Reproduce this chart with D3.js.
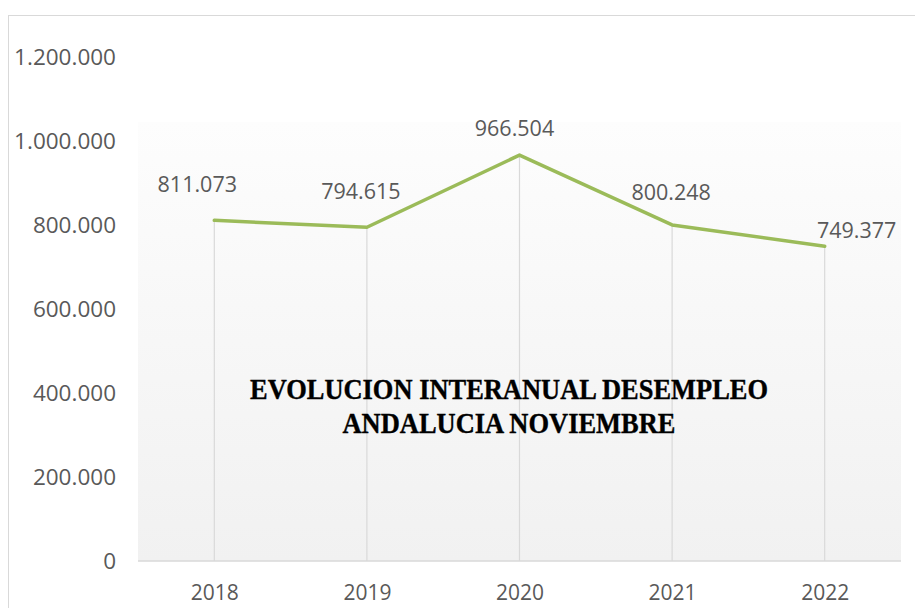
<!DOCTYPE html>
<html>
<head>
<meta charset="utf-8">
<script src="https://cdn.jsdelivr.net/npm/d3@7"></script>
<style>
  body { margin: 0; background: #fff; }
  svg { display: block; }
</style>
</head>
<body>
<div id="chart"></div>
<script>
// data
const years = ["2018", "2019", "2020", "2021", "2022"];
const parados = [811073, 794615, 966504, 800248, 749377];
const yTicks = [0, 200000, 400000, 600000, 800000, 1000000, 1200000];
const titleLines = ["EVOLUCION INTERANUAL DESEMPLEO", "ANDALUCIA NOVIEMBRE"];

const width = 915, height = 608;
const margin = {top: 57, right: 14, bottom: 47, left: 138};

const svg = d3.select("#chart").append("svg")
    .attr("width", width)
    .attr("height", height);

// chart border (runs off the right / bottom edge)
svg.append("rect")
    .attr("x", 8.5).attr("y", 15.5)
    .attr("width", 1000).attr("height", 700)
    .attr("fill", "#fff")
    .attr("stroke", "#d9d9d9");

const x = d3.scalePoint()
    .domain(years)
    .range([margin.left, width - margin.right])
    .padding(0.5);

const y = d3.scaleLinear()
    .domain([0, 1200000])
    .range([height - margin.bottom, margin.top]);

// plot area gradient
const defs = svg.append("defs");
const grad = defs.append("linearGradient")
    .attr("id", "bg").attr("x1", 0).attr("y1", 0).attr("x2", 0).attr("y2", 1);
grad.append("stop").attr("offset", "0%").attr("stop-color", "#fdfdfd");
grad.append("stop").attr("offset", "100%").attr("stop-color", "#f1f1f1");

const plotTop = 122;
svg.append("rect")
    .attr("x", margin.left)
    .attr("y", plotTop)
    .attr("width", width - margin.right - margin.left)
    .attr("height", y(0) - plotTop)
    .attr("fill", "url(#bg)");

// drop lines
svg.append("g")
    .selectAll("line")
    .data(parados)
    .join("line")
    .attr("x1", (d, i) => x(years[i]))
    .attr("x2", (d, i) => x(years[i]))
    .attr("y1", d => y(d))
    .attr("y2", y(0))
    .attr("stroke", "#d9d9d9")
    .attr("stroke-width", 1.2);

// x axis
const xAxis = svg.append("g")
    .attr("transform", `translate(0,${y(0)})`)
    .call(d3.axisBottom(x).tickSize(0).tickPadding(24));
xAxis.select(".domain")
    .attr("d", `M${margin.left},0H${width - margin.right}`)
    .attr("stroke", "#d9d9d9")
    .attr("stroke-width", 1.5);
xAxis.selectAll("text")
    .attr("fill", "#595959")
    .style("font-family", "Open Sans")
    .style("font-size", "21px");

// y axis (labels only)
const fmt = d3.formatLocale({decimal: ",", thousands: ".", grouping: [3], currency: ["", ""]}).format(",d");
const yAxis = svg.append("g")
    .attr("transform", "translate(116,0)")
    .call(d3.axisLeft(y).tickValues(yTicks).tickFormat(fmt).tickSize(0).tickPadding(0));
yAxis.select(".domain").remove();
yAxis.selectAll("text")
    .attr("fill", "#595959")
    .attr("dy", "0.35em")
    .style("font-family", "Open Sans")
    .style("font-size", "22.5px");

// line
const line = d3.line()
    .x((d, i) => x(years[i]))
    .y(d => y(d));

svg.append("path")
    .datum(parados)
    .attr("d", line)
    .attr("fill", "none")
    .attr("stroke", "#9bbb59")
    .attr("stroke-width", 3.5)
    .attr("stroke-linecap", "round")
    .attr("stroke-linejoin", "round");

// data labels, nudged like the original
const labelShift = [[-17, -28], [-6, -28], [-5, -19], [-1, -25], [32, -8]];
svg.append("g")
    .selectAll("text")
    .data(parados)
    .join("text")
    .attr("x", (d, i) => x(years[i]) + labelShift[i][0])
    .attr("y", (d, i) => y(d) + labelShift[i][1])
    .attr("text-anchor", "middle")
    .attr("fill", "#595959")
    .style("font-family", "Open Sans")
    .style("font-size", "21.5px")
    .text(d => fmt(d));

// title inside the plot
const titleWidths = [518, 333];
svg.append("g")
    .selectAll("text")
    .data(titleLines)
    .join("text")
    .attr("x", 509)
    .attr("y", (d, i) => 399 + i * 33.5)
    .attr("text-anchor", "middle")
    .attr("textLength", (d, i) => titleWidths[i])
    .attr("lengthAdjust", "spacingAndGlyphs")
    .attr("fill", "#000")
    .attr("stroke", "#000")
    .attr("stroke-width", 0.4)
    .style("font-family", "Liberation Serif")
    .style("font-weight", "bold")
    .style("font-size", "30px")
    .text(d => d);
</script>
</body>
</html>
